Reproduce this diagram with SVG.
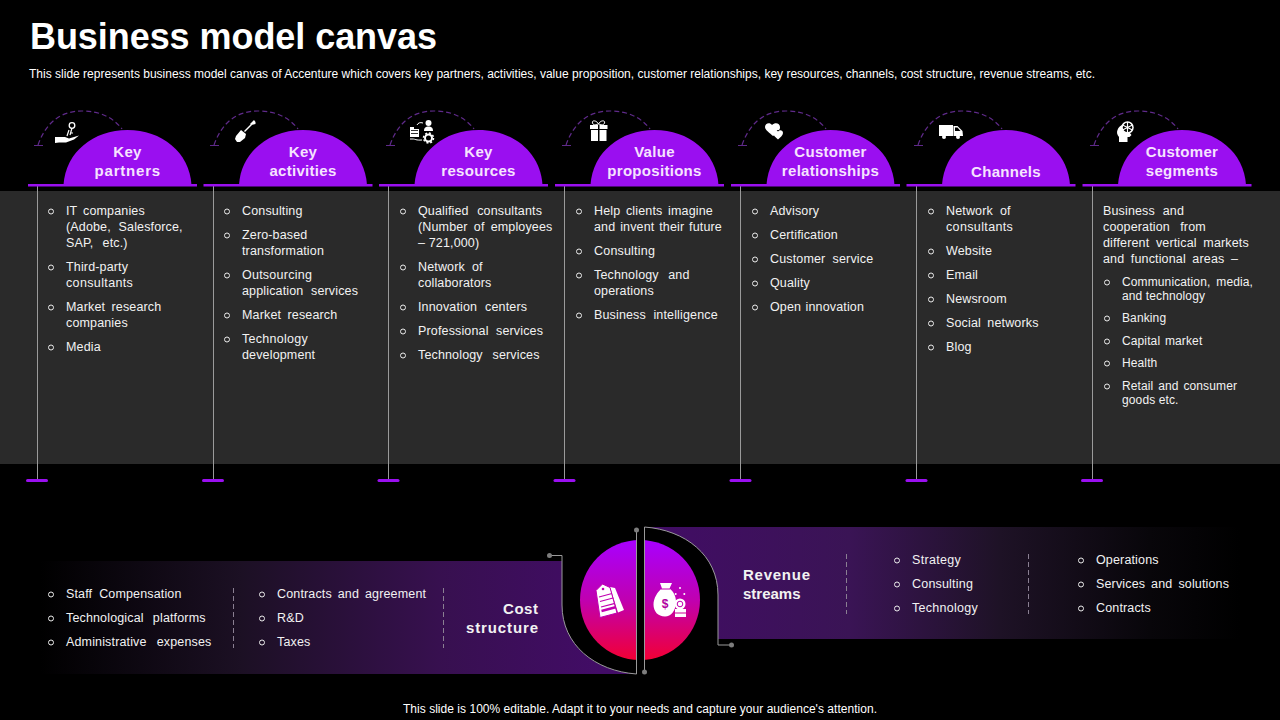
<svg xmlns="http://www.w3.org/2000/svg" width="1280" height="720" viewBox="0 0 1280 720">
<style>
text{font-family:"Liberation Sans",Arial,sans-serif;fill:#fff}
.b{font-size:12.5px;fill:#f2f2f2;letter-spacing:.15px}
.s{font-size:12px;fill:#f2f2f2;letter-spacing:.12px}
.h{font-size:15px;font-weight:700;fill:#f6e3ff;text-anchor:middle;letter-spacing:.3px}
.r{font-size:15px;font-weight:700;fill:#f2f2f2}
.d{fill:none;stroke:#ececec;stroke-width:1;transform:translateY(.5px)}
.v{stroke:#9a9a9a;stroke-width:1;fill:none}
.a{fill:none;stroke:#5f2a8a;stroke-width:1.2;stroke-dasharray:5 3}
.p{fill:#9a0ff0}
.w{fill:#fff}
.l{stroke:#fff;fill:none}
.g{fill:#7d7d7d}
.x{stroke:#8a7f92;stroke-width:1;stroke-dasharray:5 3;fill:none}
</style>
<defs>
<g id="dome"><path class="p" d="M-64 185C-62 152-34 130 0 130S62 152 64 185Z"/><rect class="p" x="-99.500" y="184" width="169" height="2.500"/></g>
<g id="arc"><path class="a" d="M38 145Q50 111 82 111Q108 111 122 129"/><path d="M34 145.500H43" stroke="#5f2a8a" stroke-width="1"/></g>
<g id="foot"><rect class="p" x="-11" y="479" width="22" height="3" rx="1.500"/></g>
<linearGradient id="gl" gradientUnits="userSpaceOnUse" x1="40" x2="600" y1="0" y2="0"><stop offset="0" stop-color="#000"/><stop offset=".36" stop-color="#1c1024"/><stop offset=".71" stop-color="#37104f"/><stop offset="1" stop-color="#420c66"/></linearGradient>
<linearGradient id="gr" gradientUnits="userSpaceOnUse" x1="640" x2="1240" y1="0" y2="0"><stop offset="0" stop-color="#420c66"/><stop offset=".35" stop-color="#3a1455"/><stop offset=".6" stop-color="#1e1226"/><stop offset=".85" stop-color="#08060a"/><stop offset="1" stop-color="#000"/></linearGradient>
<linearGradient id="gc" x1="0" x2="0" y1="0" y2="1"><stop offset="0" stop-color="#a800ff"/><stop offset=".5" stop-color="#c000b0"/><stop offset="1" stop-color="#f20035"/></linearGradient>
</defs>
<rect width="1280" height="720" fill="#000"/>
<rect x="0" y="191" width="1280" height="273" fill="#2a2a2a"/>
<text id="title" x="30" y="49" font-size="36" font-weight="700" textLength="407">Business model canvas</text>
<text id="subtitle" x="29" y="78" font-size="12" textLength="1066" lengthAdjust="spacing">This slide represents business model canvas of Accenture which covers key partners, activities, value proposition, customer relationships, key resources, channels, cost structure, revenue streams, etc.</text>

<g id="connectors">
<g class="v"><path d="M37.500 186V480M213.500 186V480M388.500 186V480M564.500 186V480M740.500 186V480M916.500 186V480M1092.500 186V480"/></g>
<use href="#arc"/><use href="#arc" x="176"/><use href="#arc" x="352"/><use href="#arc" x="528"/><use href="#arc" x="704"/><use href="#arc" x="880"/><use href="#arc" x="1056"/>
</g>

<g id="n-partners"><use href="#dome" x="127.500"/><use href="#foot" x="37"/><text class="h" x="127.500" y="157">Key</text><text class="h" x="127.500" y="176" textLength="66">partners</text>
<g class="w"><path d="M55 137h4l6 0 4 1.500 10-3-5 4-8 3h-7l-4 .5z"/><circle cx="72" cy="125.500" r="2.800" fill="none" stroke="#fff" stroke-width="1.300"/><path class="l" d="M72 128L70 135M70 133h3M69 130l-2 6" stroke-width="1.200"/></g>
<circle class="d" cx="51" cy="211" r="2.500"/><text class="b" x="66" y="215" word-spacing="2.200">IT companies</text><text class="b" x="66" y="231" word-spacing="4.100">(Adobe, Salesforce,</text><text class="b" x="66" y="247" word-spacing="5.500">SAP, etc.)</text>
<circle class="d" cx="51" cy="267" r="2.500"/><text class="b" x="66" y="271">Third-party</text><text class="b" x="66" y="287" textLength="67">consultants</text>
<circle class="d" cx="51" cy="307" r="2.500"/><text class="b" x="66" y="311" word-spacing="2.750">Market research</text><text class="b" x="66" y="327">companies</text>
<circle class="d" cx="51" cy="347" r="2.500"/><text class="b" x="66" y="351">Media</text></g>

<g id="n-activities"><use href="#dome" x="303"/><use href="#foot" x="213"/><text class="h" x="303" y="157">Key</text><text class="h" x="303" y="176">activities</text>
<path class="w" d="M236 136l5-6 5 4-1 4-5 4h-3l-2-3zM244 131l8-8 1 1-8 8zM250 124l4-4 1.500 2 0 2-4 1z"/>
<circle class="d" cx="227" cy="211" r="2.500"/><text class="b" x="242" y="215">Consulting</text>
<circle class="d" cx="227" cy="235" r="2.500"/><text class="b" x="242" y="239">Zero-based</text><text class="b" x="242" y="255" textLength="82">transformation</text>
<circle class="d" cx="227" cy="275" r="2.500"/><text class="b" x="242" y="279" textLength="70">Outsourcing</text><text class="b" x="242" y="295" word-spacing="4">application services</text>
<circle class="d" cx="227" cy="315" r="2.500"/><text class="b" x="242" y="319" word-spacing="2.750">Market research</text>
<circle class="d" cx="227" cy="339" r="2.500"/><text class="b" x="242" y="343" textLength="66">Technology</text><text class="b" x="242" y="359">development</text></g>

<g id="n-resources"><use href="#dome" x="478.500"/><use href="#foot" x="388.500"/><text class="h" x="478.500" y="157">Key</text><text class="h" x="478.500" y="176">resources</text>
<g class="w"><path d="M410 127h4v2h5v8h-9z"/><path d="M411 130.500h7M411 133.500h7" stroke="#000" stroke-width=".8"/><circle cx="428.500" cy="123" r="3"/><path d="M424 131c0-3.500 2-4.500 4.500-4.500s4.500 1 4.500 4.500z"/><circle cx="428.500" cy="138" r="3.500" fill="none" stroke="#fff" stroke-width="2"/><circle cx="428.500" cy="138" r="5" fill="none" stroke="#fff" stroke-width="1.500" stroke-dasharray="2 1.900"/><path class="l" d="M410 139h3c2 0 3 1.500 9 1M417 125c1-2 3-3 6-2" stroke-width="1"/></g>
<circle class="d" cx="403" cy="211" r="2.500"/><text class="b" x="418" y="215" word-spacing="4.850">Qualified consultants</text><text class="b" x="418" y="231" word-spacing="2.500">(Number of employees</text><text class="b" x="418" y="247">– 721,000)</text>
<circle class="d" cx="403" cy="267" r="2.500"/><text class="b" x="418" y="271" word-spacing="3.500">Network of</text><text class="b" x="418" y="287">collaborators</text>
<circle class="d" cx="403" cy="307" r="2.500"/><text class="b" x="418" y="311" word-spacing="4.300">Innovation centers</text>
<circle class="d" cx="403" cy="331" r="2.500"/><text class="b" x="418" y="335" word-spacing="3.850">Professional services</text>
<circle class="d" cx="403" cy="355" r="2.500"/><text class="b" x="418" y="359" word-spacing="6.150">Technology services</text></g>

<g id="n-value"><use href="#dome" x="654.500"/><use href="#foot" x="564.500"/><text class="h" x="654.500" y="157">Value</text><text class="h" x="654.500" y="176">propositions</text>
<g class="w"><rect x="591" y="130" width="7" height="11"/><rect x="599.500" y="130" width="7" height="11"/><rect x="590" y="125" width="8" height="4"/><rect x="599.500" y="125" width="8" height="4"/><path class="l" d="M598.500 124c-2-4-7-4-6-1s4 1.500 6 1c2-4 7-4 6-1s-4 1.500-6 1" stroke-width="1"/></g>
<circle class="d" cx="579" cy="211" r="2.500"/><text class="b" x="594" y="215" word-spacing="2">Help clients imagine</text><text class="b" x="594" y="231" word-spacing="1.200">and invent their future</text>
<circle class="d" cx="579" cy="251" r="2.500"/><text class="b" x="594" y="255" textLength="61">Consulting</text>
<circle class="d" cx="579" cy="275" r="2.500"/><text class="b" x="594" y="279" word-spacing="5.900">Technology and</text><text class="b" x="594" y="295">operations</text>
<circle class="d" cx="579" cy="315" r="2.500"/><text class="b" x="594" y="319" word-spacing="3.850">Business intelligence</text></g>

<g id="n-relationships"><use href="#dome" x="830.500"/><use href="#foot" x="740.500"/><text class="h" x="830.500" y="157">Customer</text><text class="h" x="830.500" y="176">relationships</text>
<path class="w" d="M773 136c-3-3-8-6-8-9 0-4 5-5 7-2 3-3 8-2 8 2 0 1 0 2-1 3-3 0-5 2-4 5zM778 139.500c-2-2-5-4-5-6.500 0-3 3.500-3.500 5-1.500 1.500-2 5-1.500 5 1.500 0 2.500-3 4.500-5 6.500z"/>
<circle class="d" cx="755" cy="211" r="2.500"/><text class="b" x="770" y="215">Advisory</text>
<circle class="d" cx="755" cy="235" r="2.500"/><text class="b" x="770" y="239">Certification</text>
<circle class="d" cx="755" cy="259" r="2.500"/><text class="b" x="770" y="263" word-spacing="3.600">Customer service</text>
<circle class="d" cx="755" cy="283" r="2.500"/><text class="b" x="770" y="287">Quality</text>
<circle class="d" cx="755" cy="307" r="2.500"/><text class="b" x="770" y="311" word-spacing=".75">Open innovation</text></g>

<g id="n-channels"><use href="#dome" x="1006"/><use href="#foot" x="916.500"/><text class="h" x="1006" y="177">Channels</text>
<g class="w"><path d="M939 125h14v11h-14zM953.500 126h4l5 5 .5 5h-9.500z"/><circle cx="944" cy="137" r="2"/><circle cx="958" cy="137" r="2"/></g>
<path d="M955 127.500h2.500l3 3.500h-5.500z" fill="#000"/>
<circle class="d" cx="931" cy="211" r="2.500"/><text class="b" x="946" y="215" word-spacing="3.500">Network of</text><text class="b" x="946" y="231" textLength="67">consultants</text>
<circle class="d" cx="931" cy="251" r="2.500"/><text class="b" x="946" y="255">Website</text>
<circle class="d" cx="931" cy="275" r="2.500"/><text class="b" x="946" y="279">Email</text>
<circle class="d" cx="931" cy="299" r="2.500"/><text class="b" x="946" y="303">Newsroom</text>
<circle class="d" cx="931" cy="323" r="2.500"/><text class="b" x="946" y="327" word-spacing="2.750">Social networks</text>
<circle class="d" cx="931" cy="347" r="2.500"/><text class="b" x="946" y="351">Blog</text></g>

<g id="n-segments"><use href="#dome" x="1182"/><use href="#foot" x="1092"/><text class="h" x="1182" y="157">Customer</text><text class="h" x="1182" y="176">segments</text>
<g class="w"><path d="M1119 142v-5c-2-2-2.500-5-1.500-7 1-3 3-5 6-5l8 10-2 2h-2v5z"/><circle cx="1127.500" cy="127.500" r="5.500" fill="#000" stroke="#fff" stroke-width="1.500"/><path class="l" d="M1127.500 122v11M1122.500 125l10 5M1122.500 130l10-5" stroke-width="1.200"/></g>
<text class="b" x="1103" y="215" word-spacing="4.200">Business and</text><text class="b" x="1103" y="231" word-spacing="6.600">cooperation from</text><text class="b" x="1103" y="247" word-spacing="3">different vertical markets</text><text class="b" x="1103" y="263" word-spacing="2.900">and functional areas –</text>
<circle class="d" cx="1107" cy="282" r="2.500"/><text class="s" x="1122" y="286" word-spacing="2.500">Communication, media,</text><text class="s" x="1122" y="300">and technology</text>
<circle class="d" cx="1107" cy="318" r="2.500"/><text class="s" x="1122" y="322">Banking</text>
<circle class="d" cx="1107" cy="341" r="2.500"/><text class="s" x="1122" y="345" word-spacing="1.300">Capital market</text>
<circle class="d" cx="1107" cy="363" r="2.500"/><text class="s" x="1122" y="367">Health</text>
<circle class="d" cx="1107" cy="386" r="2.500"/><text class="s" x="1122" y="390" word-spacing="1.350">Retail and consumer</text><text class="s" x="1122" y="404">goods etc.</text></g>

<g id="n-cost">
<path fill="url(#gl)" d="M40 561H562V605C562 645 595 671 636 674H40Z"/>
<circle class="d" cx="51" cy="594" r="2.500"/><text class="b" x="66" y="598" word-spacing="3.300">Staff Compensation</text>
<circle class="d" cx="51" cy="618" r="2.500"/><text class="b" x="66" y="622" word-spacing="5.550">Technological platforms</text>
<circle class="d" cx="51" cy="642" r="2.500"/><text class="b" x="66" y="646" word-spacing="6.550">Administrative expenses</text>
<path class="x" d="M233.500 588V648M443.500 588V648"/>
<circle class="d" cx="262" cy="594" r="2.500"/><text class="b" x="277" y="598" word-spacing="2.300">Contracts and agreement</text>
<circle class="d" cx="262" cy="618" r="2.500"/><text class="b" x="277" y="622">R&amp;D</text>
<circle class="d" cx="262" cy="642" r="2.500"/><text class="b" x="277" y="646">Taxes</text>
<text class="r" x="503" y="614" textLength="35">Cost</text><text class="r" x="466" y="633" textLength="72">structure</text>
</g>
<g id="n-revenue">
<path fill="url(#gr)" d="M644 527H1240V639H718V595C718 555 685 530 644 527Z"/>
<text class="r" x="743" y="580" textLength="67">Revenue</text><text class="r" x="743" y="599">streams</text>
<path class="x" d="M846.500 554V614M1028.500 554V614"/>
<circle class="d" cx="897" cy="560" r="2.500"/><text class="b" x="912" y="564" textLength="49">Strategy</text>
<circle class="d" cx="897" cy="584" r="2.500"/><text class="b" x="912" y="588" textLength="61">Consulting</text>
<circle class="d" cx="897" cy="608" r="2.500"/><text class="b" x="912" y="612" textLength="66">Technology</text>
<circle class="d" cx="1081" cy="560" r="2.500"/><text class="b" x="1096" y="564">Operations</text>
<circle class="d" cx="1081" cy="584" r="2.500"/><text class="b" x="1096" y="588" word-spacing="2.350">Services and solutions</text>
<circle class="d" cx="1081" cy="608" r="2.500"/><text class="b" x="1096" y="612">Contracts</text>
</g>
<g id="n-center">
<circle cx="640" cy="600" r="60" fill="url(#gc)"/>
<rect x="636.500" y="530" width="8" height="145" fill="#000"/>
<path class="w" d="M610 587l5 1 9 22-6 2.500z"/>
<path class="w" stroke="#c000b0" stroke-width="1" d="M602.500 584l7.500 3.500 7 25.500-17 4.500-4-27z"/>
<circle cx="603" cy="589" r="1.300" fill="#c000b0"/>
<path d="M599 597l13-3.500M600 601.500l13-3.500M601 607l14-3.700" stroke="#c000b0" stroke-width="1.200"/>
<path d="M601.500 611l14-3.700" stroke="#c000b0" stroke-width="2.500"/>
<g class="w"><path d="M660 583h12l-2.500 5.500c4 3 6.500 8 6.500 13 0 9-5 15-11 15-7 0-11.500-5-11.500-12 0-6 4-13 8.500-16z"/><circle cx="680" cy="604" r="5.500"/><rect x="675" y="609" width="11" height="3.500"/><rect x="675" y="613.500" width="11" height="3.500"/><circle cx="680" cy="588" r="1"/><circle cx="675.700" cy="594" r="1"/><circle cx="684.300" cy="594" r="1"/></g>
<path d="M661 589h9" stroke="#c000b0" stroke-width="1"/><circle cx="680" cy="604" r="2.800" fill="none" stroke="#c000b0" stroke-width="1"/>
<text x="665" y="608" font-size="12" font-weight="700" text-anchor="middle" style="fill:#b000a0">$</text>
</g>
<g id="center-lines">
<path class="v" d="M549 555.500H562V605C562 645 595 671 636.500 674V530"/>
<path class="v" d="M644.500 672V527C685 530 718 555 718 595V645H731"/>
<circle class="g" cx="549.500" cy="555.500" r="2.500"/><circle class="g" cx="636.500" cy="530" r="2.500"/><circle class="g" cx="644.500" cy="672" r="2.500"/><circle class="g" cx="731.500" cy="645" r="2.500"/>
</g>
<text id="footer" x="403" y="713" font-size="12" textLength="474">This slide is 100% editable. Adapt it to your needs and capture your audience's attention.</text>
</svg>
